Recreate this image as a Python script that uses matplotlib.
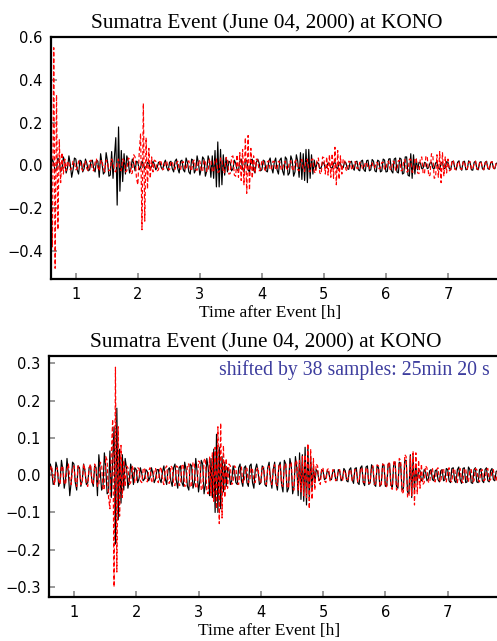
import numpy as np
import matplotlib
matplotlib.use("Agg")
import matplotlib.pyplot as plt

# KONO record (black) and reference trace (red), one sample every 80 s
# starting 0.6 h after the event, values in units of 1e-3
T0_H = 0.6
DT_S = 80.0
SAMPLE_S = 40.0          # original sampling of the record
SHIFT_SAMPLES = 38       # lag applied to the red trace in the lower panel

kono = [
    5, 30, 10, -25, -20, 35, 20, -30, -15,
    40, 15, -35, -10, 45, 5, -55, -20, 35,
    30, -20, -40, 25, 20, -30, -15, 30, 10,
    -25, -20, 20, 25, -15, -30, 25, 20, -55,
    55, 10, -40, -30, 60, 20, -50, -45, 65,
    -60, 40, 130, -185, 180, -120, 70, -75, 55,
    -40, 45, 20, -35, -15, 30, 10, -25, 20,
    15, -20, -10, 20, 5, -15, -10, 15, 10,
    -15, -5, 20, 5, -20, -10, 15, 15, -10,
    -20, 10, 25, -10, -25, 15, 20, -15, -30,
    20, 30, -15, -35, 20, 25, -20, -30, 35,
    15, -30, -40, 30, 25, -35, -20, 45, 10,
    -45, -15, 40, 30, -50, -25, 45, 20, -55,
    45, -60, 70, -100, 110, -100, 75, -90, 50,
    -45, 35, -30, 20, 15, -25, -15, 25, 10,
    -20, -25, 20, 30, -15, -30, 20, 25, -20,
    -30, 25, 30, -20, -35, 15, 30, 10, -25,
    -20, 25, 20, -25, -30, 20, 35, -10, -35,
    15, 35, -20, -40, 25, 35, -25, -45, 40,
    30, -45, -35, 45, 25, -50, -30, 50, 20,
    -55, 60, -65, 55, -70, 75, -80, 75, -60,
    50, -40, 25, -20, 15, 10, -15, -10, 15,
    10, -12, -8, 12, 8, -10, -12, 10, 15,
    -10, -15, 15, 10, -15, -10, 18, 12, -15,
    -18, 15, 20, -12, -22, 18, 20, -20, -25,
    20, 25, -20, -28, 22, 25, -25, -20, 28,
    20, -25, -30, 25, 20, -30, -25, 30, 25,
    -30, -28, 30, 32, -25, -35, 30, 35, -30,
    -35, 35, 30, -40, -35, 40, 40, -45, -50,
    55, -60, 50, -40, 30, -20, 15, 12, -15,
    -12, 15, 10, -15, -10, 12, 15, -12, -15,
    12, 15, -12, -18, 12, 15, -15, -12, 18,
    15, -15, -20, 18, 20, -15, -20, 15, 22,
    -12, -22, 18, 20, -20, -18, 22, 15, -20,
    -22, 15, 20, -18, -20, 15, 18, -15, -20,
    15, 20, -15, -18, 12, 18, -12, -15, 10,
    12,
]

reference = [
    -150, -380, 550, -480, 330, -300, 120, -80, 60,
    -40, 30, -25, 20, 10, -20, -15, 20, 15,
    -20, -15, 20, 25, -10, -25, 15, 20, -15,
    -25, 20, 25, -20, -25, 15, 30, -10, -25,
    20, 25, -15, -30, 25, 20, -25, -20, 30,
    15, -25, -30, 20, 30, -20, -25, 30, 20,
    -30, -25, 35, 30, -40, -35, 50, 40, -60,
    -90, 60, 150, -300, 290, -260, 130, -110, 80,
    -60, 40, -30, 25, 20, -25, -20, 25, 15,
    -20, -15, 20, 18, -15, -20, 15, 20, -12,
    -18, 12, 20, -15, -20, 15, 18, -12, -20,
    15, 22, -15, -25, 18, 25, -20, -22, 25,
    20, -25, -28, 25, 22, -28, -25, 30, 25,
    -30, -28, 30, 30, -32, -30, 35, 30, -35,
    -32, 38, 35, -40, -38, 40, 45, -45, -50,
    50, -55, 60, -70, 75, -90, 130, -130, 140,
    -115, 80, -60, 45, -35, 30, 25, -25, -20,
    25, 20, -20, -25, 18, 22, -20, -18, 20,
    18, -20, -15, 20, 15, -18, -20, 15, 20,
    -15, -20, 18, 22, -15, -25, 20, 25, -20,
    -25, 20, 28, -22, -28, 25, 30, -25, -30,
    28, 30, -30, -35, 30, 35, -35, -40, 40,
    35, -40, 40, -45, 50, -55, 55, -60, 85,
    -90, 70, -65, 45, -40, 30, 25, -20, -25,
    20, 18, -15, -20, 15, 18, -15, -12, 15,
    12, -15, -10, 12, 15, -12, -15, 10, 12,
    -12, -10, 15, 12, -15, -12, 15, 15, -18,
    -15, 18, 20, -18, -20, 20, 18, -22, -20,
    22, 25, -25, -22, 28, 25, -30, -28, 30,
    28, -32, -30, 35, 30, -35, -38, 35, 40,
    -40, -35, 45, 40, -50, -45, 55, 50, -60,
    -55, 50, -55, 65, -80, 60, -50, 40, -35,
    30, -25, -20, 25, 20, -18, -20, 15, 18,
    -15, -18, 15, 20, -12, -18, 15, 18, -15,
    -18, 12, 20, -15, -18, 15, 18, -12, -20,
    12, 18, -15, -20, 15, 18, -12, -18, 15,
    15, -18, -15, 18, 15, -12, -18, 12, 15,
    -15, -12, 15, 18, -15, -12, 12, 15, -12,
    -15, 12, 15, -10, -15, 12, 15, -10, -12,
]

kono = np.array(kono) / 1000.0
reference = np.array(reference) / 1000.0
t_kono = T0_H + np.arange(len(kono)) * DT_S / 3600.0
t_ref = T0_H + np.arange(len(reference)) * DT_S / 3600.0

shift_s = SHIFT_SAMPLES * SAMPLE_S
shift_h = shift_s / 3600.0
shift_label = "shifted by %d samples: %dmin %d s" % (SHIFT_SAMPLES, shift_s // 60, shift_s % 60)

title = "Sumatra Event (June 04, 2000) at KONO"
serif = ["Liberation Serif", "DejaVu Serif"]

fig = plt.figure(figsize=(4.97, 6.41), dpi=100)
ax1 = fig.add_axes([51 / 497, 1 - 279 / 641, 459 / 497, 242 / 641])
ax2 = fig.add_axes([49 / 497, 1 - 597 / 641, 461 / 497, 241 / 641])


def fmt(v):
    s = "%.1f" % abs(v)
    return "\u2212" + s if v < -1e-9 else s


def style(ax, ylim, yticks):
    ax.set_xlim(0.6, 8.0)
    ax.set_ylim(*ylim)
    ax.set_xticks(range(1, 8))
    ax.set_yticks(yticks)
    ax.set_yticklabels([fmt(v) for v in yticks])
    ax.spines["right"].set_visible(False)
    for s in ("left", "bottom", "top"):
        ax.spines[s].set_linewidth(1.6)
    ax.tick_params(direction="in", length=4, width=1.2, color="#888888",
                   labelsize=10.5, top=False, right=False, pad=6)
    ax.set_xlabel("Time after Event [h]", family=serif, fontsize=12.5,
                  labelpad=2, x=0.477)
    ax.set_title(title, family=serif, fontsize=15.3, x=0.47, pad=6)


# upper panel: traces as recorded
ax1.plot(t_kono, kono, color="black", lw=0.85)
ax1.plot(t_ref, reference, color="red", lw=0.85, ls="--", dashes=(3.5, 2))
style(ax1, (-0.53, 0.6), [-0.4, -0.2, 0.0, 0.2, 0.4, 0.6])

# lower panel: red trace moved earlier by the lag
ax2.plot(t_kono, kono, color="black", lw=0.85)
ax2.plot(t_ref - shift_h, reference, color="red", lw=0.85, ls="--", dashes=(3.5, 2))
style(ax2, (-0.327, 0.32), [-0.3, -0.2, -0.1, 0.0, 0.1, 0.2, 0.3])
ax2.text(490 / 497, 1 - 370 / 641, shift_label, transform=fig.transFigure,
         ha="right", va="center", family=serif, fontsize=14.2, color="#3d3d9e")

fig.savefig("out.png", dpi=100)
